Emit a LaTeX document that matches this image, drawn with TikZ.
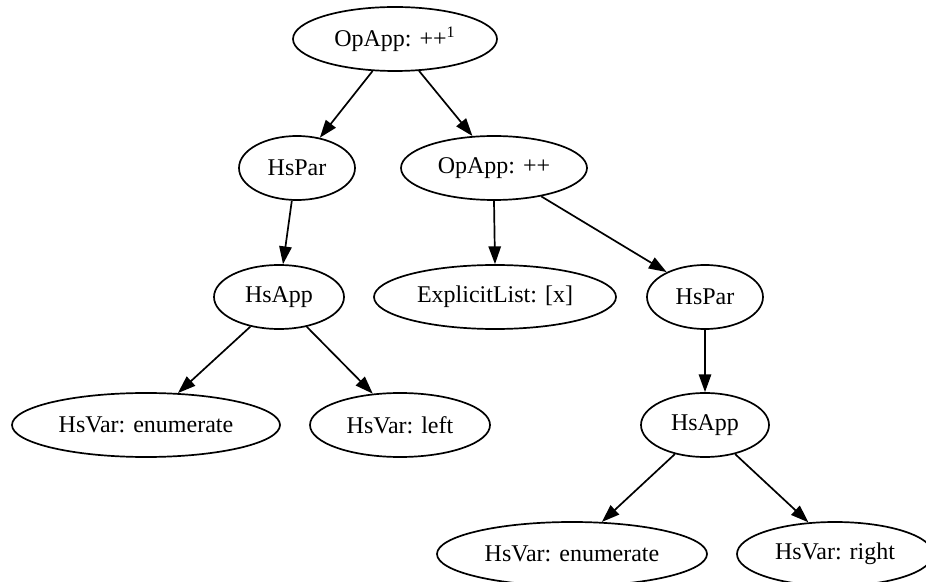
\documentclass[tikz,border=0pt]{standalone}
\usepackage{fontspec}
\setmainfont{Liberation Serif}
\usetikzlibrary{arrows.meta,shapes.geometric}
\begin{document}
\begin{tikzpicture}[x=0.5pt,y=-0.5pt,
  nd/.style={draw,ellipse,line width=0.85pt,inner sep=0pt,minimum height=32pt,
             font=\fontsize{12}{14}\selectfont},
  ed/.style={line width=0.85pt,-{Triangle[length=8.9pt,width=6.2pt]}}]
\useasboundingbox (0,0) rectangle (926,582);
\clip (0,0) rectangle (926,582);
\node[nd,minimum width=102pt] (top) at (395,39) {OpApp: ++\textsuperscript{1}};
\node[nd,minimum width=58pt] (hsparL) at (297,168) {HsPar};
\node[nd,minimum width=93pt] (opapp) at (494,168) {OpApp: ++};
\node[nd,minimum width=65pt] (hsappL) at (279,297) {HsApp};
\node[nd,minimum width=121pt] (explist) at (495,297) {ExplicitList: [x]};
\node[nd,minimum width=58pt] (hsparR) at (705,297) {HsPar};
\node[nd,minimum width=134pt] (enumL) at (146,425) {HsVar: enumerate};
\node[nd,minimum width=90pt] (left) at (400,425) {HsVar: left};
\node[nd,minimum width=64pt] (hsappR) at (705,425) {HsApp};
\node[nd,minimum width=135pt] (enumB) at (572,554) {HsVar: enumerate};
\node[nd,minimum width=98pt] (right) at (835,554) {HsVar: right};
\draw[ed] (top.235) -- (hsparL.53);
\draw[ed] (top.307) -- (opapp.124);
\draw[ed] (hsparL.261) -- (hsappL.83);
\draw[ed] (opapp.270) -- (explist.90);
\draw[ed] (opapp.329) -- (hsparR.147);
\draw[ed] (hsappL.226) -- (enumL.45);
\draw[ed] (hsappL.313) -- (left.131);
\draw[ed] (hsparR.270) -- (hsappR.90);
\draw[ed] (hsappR.224) -- (enumB.47);
\draw[ed] (hsappR.316) -- (right.130);
\end{tikzpicture}
\end{document}
